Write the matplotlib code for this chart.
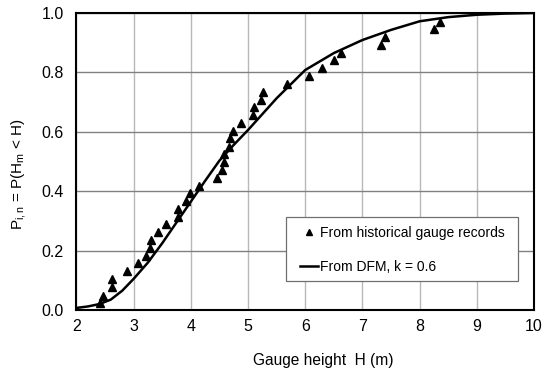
import matplotlib
matplotlib.use("Agg")
import matplotlib.pyplot as plt
from matplotlib.patches import Rectangle
import numpy as np

plt.rcParams["font.family"] = ["Liberation Sans", "DejaVu Sans"]
plt.rcParams["mathtext.fontset"] = "custom"
plt.rcParams["mathtext.rm"] = "Liberation Sans"
plt.rcParams["mathtext.it"] = "Liberation Sans"

# observed gauge heights (m) and plotting positions
obs_h = [2.42, 2.46, 2.62, 2.62, 2.88, 3.08, 3.22, 3.28, 3.31, 3.43, 3.57,
         3.77, 3.77, 3.92, 3.98, 4.14, 4.46, 4.55, 4.58, 4.58, 4.67, 4.69,
         4.73, 4.88, 5.09, 5.11, 5.22, 5.27, 5.68, 6.06, 6.30, 6.51, 6.63,
         7.33, 7.40, 8.25, 8.36]
obs_p = [0.024, 0.047, 0.077, 0.104, 0.131, 0.157, 0.181, 0.208, 0.235,
         0.262, 0.289, 0.314, 0.340, 0.367, 0.393, 0.418, 0.445, 0.471,
         0.497, 0.524, 0.549, 0.578, 0.603, 0.629, 0.656, 0.683, 0.707,
         0.734, 0.760, 0.788, 0.815, 0.842, 0.866, 0.892, 0.919, 0.946,
         0.970]

# DFM curve, k = 0.6
dfm_h = [2.0, 2.2, 2.4, 2.6, 2.8, 3.0, 3.25, 3.5, 3.75, 4.0, 4.25, 4.5,
         4.75, 5.0, 5.5, 6.0, 6.5, 7.0, 7.5, 8.0, 8.5, 9.0, 9.5, 10.0]
dfm_p = [0.007, 0.012, 0.02, 0.035, 0.065, 0.105, 0.16, 0.225, 0.295,
         0.365, 0.435, 0.503, 0.556, 0.606, 0.713, 0.808, 0.865, 0.909,
         0.943, 0.972, 0.986, 0.994, 0.998, 1.0]

x_ticks = np.arange(2, 11, 1)
y_ticks = np.arange(0, 1.01, 0.2)

fig = plt.figure(figsize=(5.5, 3.76), dpi=100)
ax = fig.add_axes([0.139, 0.1755, 0.832, 0.790])

ax.plot(obs_h, obs_p, linestyle="none", marker="^", color="black",
        markersize=6.2, label="From historical gauge records")
ax.plot(dfm_h, dfm_p, color="black", linewidth=1.8,
        label="From DFM, k = 0.6")

ax.set_xlim(2, 10)
ax.set_ylim(0, 1.0)
ax.set_xticks(x_ticks)
ax.set_yticks(y_ticks)
ax.set_yticklabels([f"{v:.1f}" for v in y_ticks])
ax.tick_params(length=0, labelsize=11.5)
ax.tick_params(axis="x", pad=6.5)
ax.tick_params(axis="y", pad=9)

ax.xaxis.grid(True, color="#b8b8b8", linewidth=1.0)
ax.yaxis.grid(True, color="#808080", linewidth=1.0)
ax.set_axisbelow(True)
for s in ax.spines.values():
    s.set_linewidth(1.5)
    s.set_color("black")

ax.set_xlabel("Gauge height  H (m)", fontsize=11.2)
ax.xaxis.set_label_coords(0.540, -0.145)
ax.set_ylabel(r"P$_{\mathrm{i,n}}$ = P(H$_{\mathrm{m}}$ < H)", fontsize=11)
ax.yaxis.set_label_coords(-0.106, 0.458)

# legend box drawn separately, entries placed inside it
ax.add_patch(Rectangle((0.457, 0.0976), 0.508, 0.2145, transform=ax.transAxes,
                       facecolor="white", edgecolor="#707070", linewidth=0.9,
                       zorder=5))
leg = ax.legend(loc="center left", bbox_to_anchor=(0.4885, 0.202),
                fontsize=10, frameon=False, borderpad=0, borderaxespad=0,
                handlelength=1.3, handletextpad=0.15, labelspacing=1.45,
                markerscale=0.65)
leg.set_zorder(6)

fig.savefig("out.png", dpi=100)
